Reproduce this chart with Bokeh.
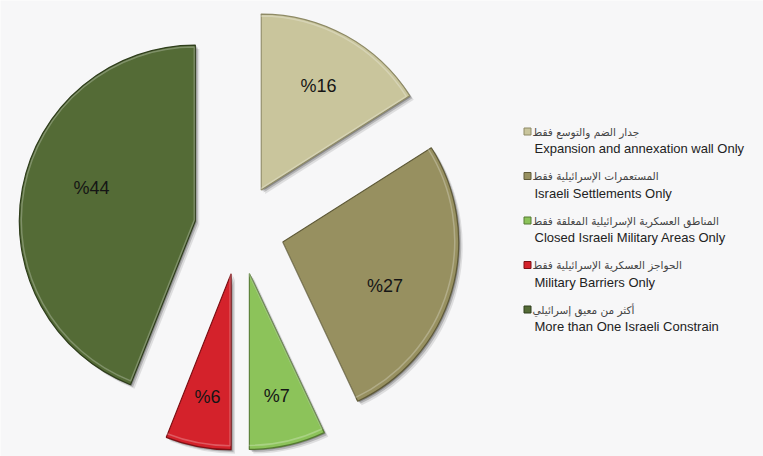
import math
from bokeh.plotting import figure
from bokeh.models import Range1d
from bokeh.core.properties import value
from bokeh.embed import file_html
from bokeh.resources import INLINE

# ---- data ----
labels_en = [
    "Expansion and annexation wall Only",
    "Israeli Settlements  Only",
    "Closed Israeli Military Areas Only",
    "Military Barriers  Only",
    "More than One Israeli Constrain",
]
labels_ar = [
    "جدار الضم والتوسع فقط",
    "المستعمرات الإسرائيلية فقط",
    "المناطق العسكرية الإسرائيلية المغلقة فقط",
    "الحواجز العسكرية الإسرائيلية فقط",
    "أكثر من معيق إسرائيلي",
]
shares = [16, 27, 7, 6, 44]
colors = ["#C9C59C", "#979060", "#8CC35A", "#D4222B", "#546B36"]
edge_colors = ["#8E8A66", "#5F5A38", "#557A32", "#7E1015", "#2F3E1C"]

W, H = 763, 456
BG = "#F7F7F8"

p = figure(width=W, height=H, output_backend="svg", toolbar_location=None,
           x_range=Range1d(0, W), y_range=Range1d(0, H), min_border=0)
p.axis.visible = False
p.grid.visible = False
p.outline_line_color = None
p.background_fill_color = BG
p.border_fill_color = BG

cx, cy, R, explode = 239, 227, 176, 45
total = float(sum(shares))

cum = 0.0
wx, wy, starts, ends, lx, ly = [], [], [], [], [], []
for s in shares:
    t1 = 2 * math.pi * cum / total
    t2 = 2 * math.pi * (cum + s) / total
    tm = (t1 + t2) / 2
    dx, dy = math.sin(tm), math.cos(tm)
    wx.append(cx + explode * dx)
    wy.append(cy + explode * dy)
    starts.append(math.pi / 2 - t1)
    ends.append(math.pi / 2 - t2)
    frac = 0.62 + 0.12 * (1 - min(s / total, 0.3) / 0.3)
    ta = tm + (math.radians(7) if s / total >= 0.25 else 0.0)
    ox, oy = wx[-1], wy[-1]
    lx.append(ox + frac * R * math.sin(ta))
    ly.append(oy + frac * R * math.cos(ta))
    cum += s

# soft drop shadow
for off, a in [(4.0, 0.10), (2.5, 0.18), (1.2, 0.25)]:
    p.wedge(x=[x + off for x in wx], y=[y - off for y in wy], radius=R,
            start_angle=starts, end_angle=ends, direction="clock",
            fill_color="black", fill_alpha=a, line_color=None)

p.wedge(x=wx, y=wy, radius=R, start_angle=starts, end_angle=ends,
        direction="clock", fill_color=colors, line_color=edge_colors,
        line_width=1.2)
# subtle highlight rim (bevel look)
p.wedge(x=[x - 1 for x in wx], y=[y + 1 for y in wy], radius=R - 3,
        start_angle=starts, end_angle=ends, direction="clock",
        fill_color=None, line_color="white", line_alpha=0.25, line_width=1.5)

p.text(x=lx, y=ly, text=["%" + str(s) for s in shares],
       text_font=value("Liberation Sans"), text_font_size="18px",
       text_color="#151515", text_align="center", text_baseline="middle")

# legend
leg_x, leg_y0, leg_dy = 527, 325, 44.5
n = len(shares)
sq_x = [leg_x] * n
sq_y = [leg_y0 - i * leg_dy for i in range(n)]
p.scatter(x=sq_x, y=sq_y, marker="square", size=7, fill_color=colors,
          line_color=edge_colors, line_width=1)
p.text(x=[leg_x + 5] * n, y=sq_y, text=labels_ar,
       text_font=value("DejaVu Sans"), text_font_size="10.5px",
       text_color="#444444", text_align="left", text_baseline="middle")
p.text(x=[leg_x + 7] * n, y=[y - 17 for y in sq_y], text=labels_en,
       text_font=value("Liberation Sans"), text_font_size="13px",
       text_color="#222222", text_align="left", text_baseline="middle")

html = file_html(p, INLINE)
html = html.replace("<body>", '<body style="background-color:#F7F7F8;">', 1)
open("out.html", "w").write(html)
